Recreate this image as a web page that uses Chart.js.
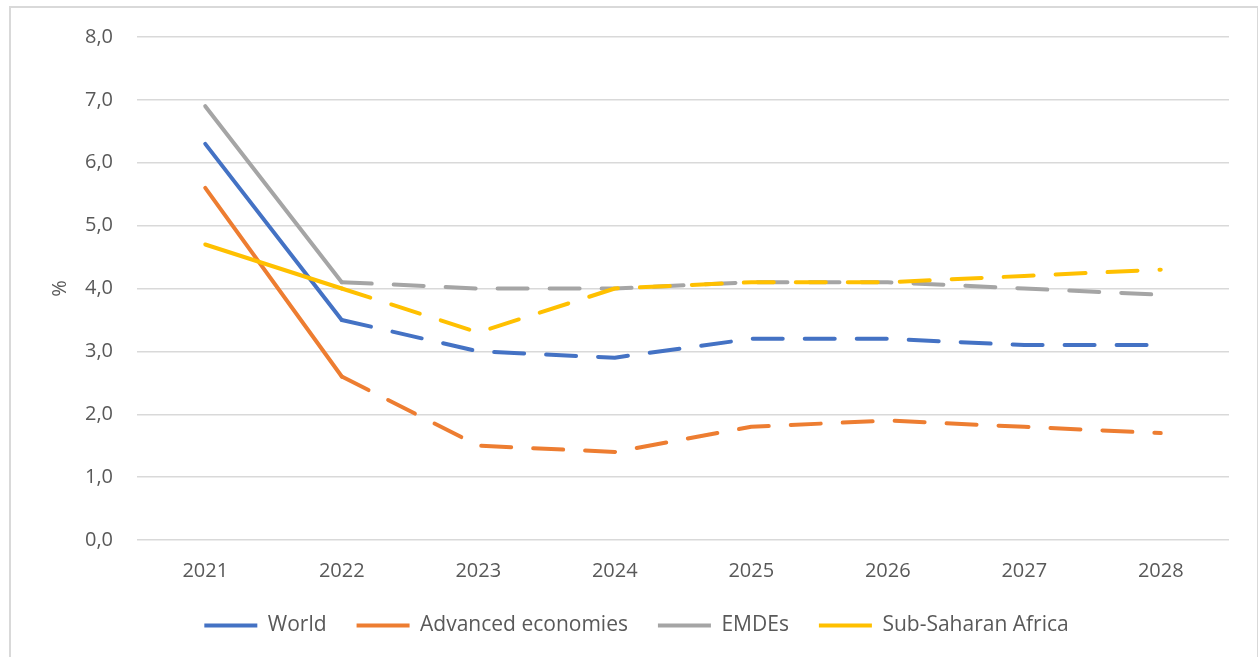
<!DOCTYPE html>
<html>
<head>
<meta charset="utf-8">
<script src="https://cdn.jsdelivr.net/npm/chart.js@4"></script>
<style>
    body { margin: 0; background: #fff; }
    #frame { position: absolute; left: 9px; top: 6px; width: 1246px; height: 660px; border: 2px solid #D9D9D9; }
    #wrap { position: absolute; left: 0; top: 0; width: 1258px; height: 657px; }
</style>
</head>
<body>
<div id="frame"></div>
<div id="wrap"><canvas id="growthChart"></canvas></div>
<script>
const years = ['2021', '2022', '2023', '2024', '2025', '2026', '2027', '2028'];
const world = [6.3, 3.5, 3.0, 2.9, 3.2, 3.2, 3.1, 3.1];
const advanced = [5.6, 2.6, 1.5, 1.4, 1.8, 1.9, 1.8, 1.7];
const emdes = [6.9, 4.1, 4.0, 4.0, 4.1, 4.1, 4.0, 3.9];
const ssa = [4.7, 4.0, 3.3, 4.0, 4.1, 4.1, 4.2, 4.3];

const textColor = '#595959';
const fontName = "'Open Sans', sans-serif";

// dashed from 2022 on (projections)
function makeSeries(label, values, color, order) {
    return {
        label: label,
        data: values,
        borderColor: color,
        backgroundColor: color,
        borderWidth: 4,
        borderCapStyle: 'round',
        borderJoinStyle: 'round',
        pointRadius: 0,
        tension: 0,
        order: order,
        segment: {
            borderDash: ctx => ctx.p0DataIndex >= 1 ? [30, 22] : undefined
        }
    };
}

const ctx = document.getElementById('growthChart');
new Chart(ctx, {
    type: 'line',
    data: {
        labels: years,
        datasets: [
            makeSeries('World', world, '#4472C4', 4),
            makeSeries('Advanced economies', advanced, '#ED7D31', 3),
            makeSeries('EMDEs', emdes, '#A5A5A5', 2),
            makeSeries('Sub-Saharan Africa', ssa, '#FFC000', 1)
        ]
    },
    options: {
        responsive: true,
        maintainAspectRatio: false,
        animation: false,
        layout: {
            padding: { left: 44, top: 37, right: 29, bottom: 11 }
        },
        plugins: {
            legend: {
                position: 'bottom',
                labels: {
                    usePointStyle: true,
                    pointStyle: 'line',
                    pointStyleWidth: 53,
                    padding: 30,
                    color: textColor,
                    font: { family: fontName, size: 21 },
                    sort: (a, b) => a.datasetIndex - b.datasetIndex
                }
            },
            tooltip: { enabled: false }
        },
        scales: {
            x: {
                offset: true,
                grid: { display: false, drawTicks: false },
                border: { display: false },
                ticks: {
                    color: textColor,
                    padding: 19,
                    maxRotation: 0,
                    font: { family: fontName, size: 20 }
                },
                afterFit: scale => { scale.height = 45; }
            },
            y: {
                min: 0,
                max: 8,
                border: { display: false },
                grid: { color: '#D9D9D9', lineWidth: 1.5, drawTicks: false },
                ticks: {
                    stepSize: 1,
                    padding: 24,
                    color: textColor,
                    font: { family: fontName, size: 20 },
                    callback: v => v.toFixed(1).replace('.', ',')
                },
                title: {
                    display: true,
                    text: '%',
                    color: textColor,
                    font: { family: fontName, size: 20 }
                },
                afterFit: scale => { scale.width = 93; }
            }
        }
    }
});
</script>
</body>
</html>
